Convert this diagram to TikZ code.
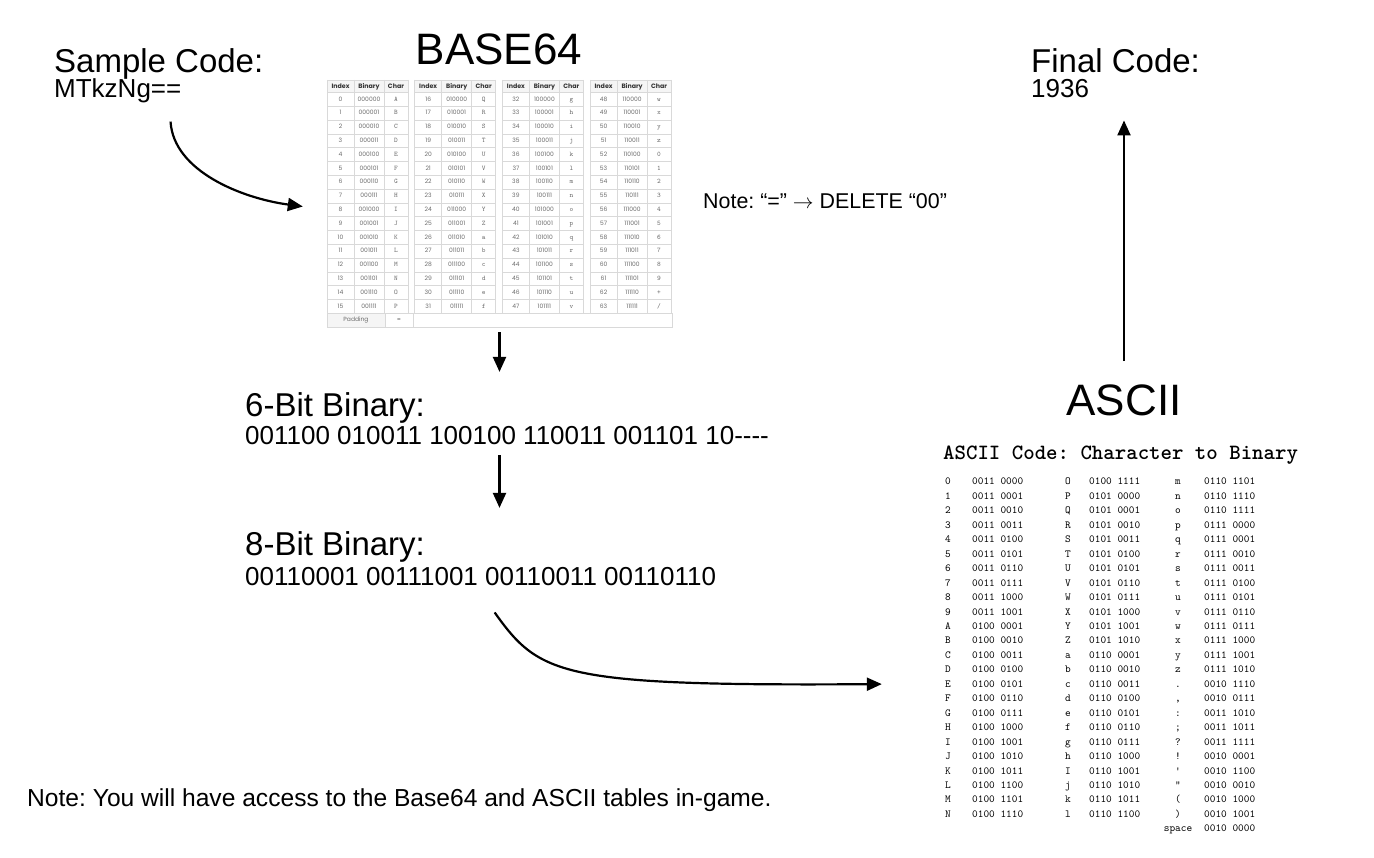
\documentclass[tikz,border=0pt]{standalone}
\usepackage{fontspec}
\setmainfont{Liberation Sans}
\newfontfamily\popfont{Poppins}
\usetikzlibrary{arrows.meta,positioning,fit}
\frenchspacing

\tikzset{
	head/.style={inner sep=0,anchor=base west,font=\fontsize{33}{40}\selectfont},
	code/.style={inner sep=0,anchor=base west,font=\fontsize{26}{31}\selectfont},
	title/.style={inner sep=0,anchor=base,font=\fontsize{44}{52}\selectfont},
	note/.style={inner sep=0,anchor=base west,font=\fontsize{21.4}{25}\selectfont},
	flow/.style={line width=2.2pt,-{Triangle[length=15pt,width=13pt]}},
	gridline/.style={draw=gray!30,line width=0.6pt},
	b64cell/.style={inner sep=0,text height=4.5pt,text depth=1.2pt,font=\popfont\fontsize{6}{7}\selectfont,text=gray!85!black},
	b64top/.style={b64cell,font=\popfont\bfseries\fontsize{6.3}{8}\selectfont,text=black!80},
	b64char/.style={b64cell,font=\ttfamily\fontsize{7}{8}\selectfont},
	asc/.style={inner sep=0,anchor=base west,font=\ttfamily\fontsize{10.8}{12}\selectfont},
	ascchar/.style={inner sep=0,anchor=base,font=\ttfamily\fontsize{10.8}{12}\selectfont},
}
\newcommand{\sixbit}[1]{\foreach \k in {32,16,8,4,2,1}{\pgfmathparse{int(mod(floor(#1/\k),2))}\pgfmathresult}}

\begin{document}
\begin{tikzpicture}[x=1pt,y=-1pt]
\useasboundingbox (0,0) rectangle (1374,858);

% left side
\node[head] (samplehead) at (54,73) {Sample Code:};
\node[code] (samplecode) at ([yshift=-25pt]samplehead.base west) {MTkzNg==};

\node[title] (b64head) at (499,65) {BASE64};

% base64 table
\coordinate (b64nw) at (327,80);
\coordinate (b64se) at (672,327);
\node[fit=(b64nw)(b64se),inner sep=0] (b64) {};
\foreach \g in {0,...,3}{
	\pgfmathsetmacro\gx{327+87.7*\g}
	\fill[gray!8] (\gx,80) rectangle (\gx+81,92.5);
	\draw[gridline] (\gx,80) -- (\gx+81,80);
	\foreach \k in {0,...,16}
		\draw[gridline] (\gx,92.5+13.8*\k) -- (\gx+81,92.5+13.8*\k);
	\foreach \dx in {0,27,57,81}
		\draw[gridline] (\gx+\dx,80) -- (\gx+\dx,313.3);
	\node[b64top] at (\gx+13.5,86.5) {Index};
	\node[b64top] at (\gx+42,86.5) {Binary};
	\node[b64top] at (\gx+69,86.5) {Char};
}
\fill[gray!8] (327,313.3) rectangle (385,327);
\draw[gridline] (327,313.3) rectangle (672,327);
\draw[gridline] (385,313.3) -- (385,327) (413,313.3) -- (413,327);
\node[b64cell] at (356,320) {Padding};
\node[b64char] at (399,320) {=};
\foreach \ch [count=\i from 0] in {A,B,C,D,E,F,G,H,I,J,K,L,M,N,O,P,Q,R,S,T,U,V,W,X,Y,Z,
	a,b,c,d,e,f,g,h,i,j,k,l,m,n,o,p,q,r,s,t,u,v,w,x,y,z,0,1,2,3,4,5,6,7,8,9,+,/}{
	\pgfmathtruncatemacro\g{floor(\i/16)}
	\pgfmathtruncatemacro\r{mod(\i,16)}
	\pgfmathsetmacro\gx{327+87.7*\g}
	\pgfmathsetmacro\gy{99.4+13.8*\r}
	\node[b64cell] at (\gx+13.5,\gy) {\i};
	\node[b64cell] at (\gx+42,\gy) {\sixbit{\i}};
	\node[b64char] at (\gx+69,\gy) {\ch};
}

\node[head] (sixhead) at (245,417) {6-Bit Binary:};
\node[code] (sixbits) at ([yshift=-28pt]sixhead.base west) {001100 010011 100100 110011 001101 10-\kern0pt-\kern0pt-\kern0pt-};
\node[head] (eighthead) at (245,555) {8-Bit Binary:};
\node[code] (eightbits) at ([yshift=-30pt]eighthead.base west) {00110001 00111001 00110011 00110110};

\node[note] (eqnote) at (703,209) {Note: “=” $\rightarrow$ DELETE “00”};
\node[note,font=\fontsize{24.6}{29}\selectfont] (gamenote) at (27,806) {Note: You will have access to the Base64 and ASCII tables in-game.};

% right side
\node[head] (finalhead) at (1031,73) {Final Code:};
\node[code] (finalcode) at ([yshift=-25pt]finalhead.base west) {1936};
\node[title] (asciihead) at (1124,416) {ASCII};

% ascii table
\node[inner sep=0,anchor=base west,font=\ttfamily\bfseries\fontsize{21.8}{26}\selectfont] (asciititle) at (943,460) {ASCII Code: Character to Binary};
\foreach \ch/\bits [count=\r from 0] in {0/0011 0000,1/0011 0001,2/0011 0010,3/0011 0011,4/0011 0100,5/0011 0101,
	6/0011 0110,7/0011 0111,8/0011 1000,9/0011 1001,A/0100 0001,B/0100 0010,C/0100 0011,D/0100 0100,
	E/0100 0101,F/0100 0110,G/0100 0111,H/0100 1000,I/0100 1001,J/0100 1010,K/0100 1011,L/0100 1100,
	M/0100 1101,N/0100 1110}{
	\node[ascchar] at (948,485+14.45*\r) {\ch};
	\node[asc] at (972,485+14.45*\r) {\bits};
}
\foreach \ch/\bits [count=\r from 0] in {O/0100 1111,P/0101 0000,Q/0101 0001,R/0101 0010,S/0101 0011,T/0101 0100,
	U/0101 0101,V/0101 0110,W/0101 0111,X/0101 1000,Y/0101 1001,Z/0101 1010,a/0110 0001,b/0110 0010,
	c/0110 0011,d/0110 0100,e/0110 0101,f/0110 0110,g/0110 0111,h/0110 1000,I/0110 1001,j/0110 1010,
	k/0110 1011,l/0110 1100}{
	\node[ascchar] at (1068,485+14.45*\r) {\ch};
	\node[asc] at (1089,485+14.45*\r) {\bits};
}
\foreach \ch/\bits [count=\r from 0] in {m/0110 1101,n/0110 1110,o/0110 1111,p/0111 0000,q/0111 0001,r/0111 0010,
	s/0111 0011,t/0111 0100,u/0111 0101,v/0111 0110,w/0111 0111,x/0111 1000,y/0111 1001,z/0111 1010,
	{.}/0010 1110,{,}/0010 0111,{:}/0011 1010,{;}/0011 1011,{?}/0011 1111,{!}/0010 0001,{'}/0010 1100,
	{"}/0010 0010,{(}/0010 1000,{)}/0010 1001,{space}/0010 0000}{
	\node[ascchar] at (1178,485+14.45*\r) {\ch};
	\node[asc] at (1204,485+14.45*\r) {\bits};
}
\coordinate (asciise) at (1306,838);
\node[fit=(asciititle)(asciise),inner sep=0] (asciitab) {};

% arrows
\draw[flow] ([xshift=-11pt,yshift=-18pt]samplecode.south east) .. controls +(3,50) and +(-60,-8) .. ([xshift=-24pt,yshift=-3pt]b64.west);
\draw[flow,shorten <=5pt,shorten >=21pt] (b64.south) -- (b64.south |- sixhead.north);
\draw[flow,shorten <=10pt,shorten >=23pt] (sixbits.south -| b64.south) -- (eighthead.north -| b64.south);
\draw[flow] ([xshift=14pt,yshift=-27pt]eightbits.south) .. controls +(45,63) and +(-322,2) .. ([xshift=-61pt,yshift=-42pt]asciitab.west);
\draw[flow,shorten <=24pt,shorten >=22pt] (asciihead.north) -- (asciihead.north |- finalcode.south);
\end{tikzpicture}
\end{document}
